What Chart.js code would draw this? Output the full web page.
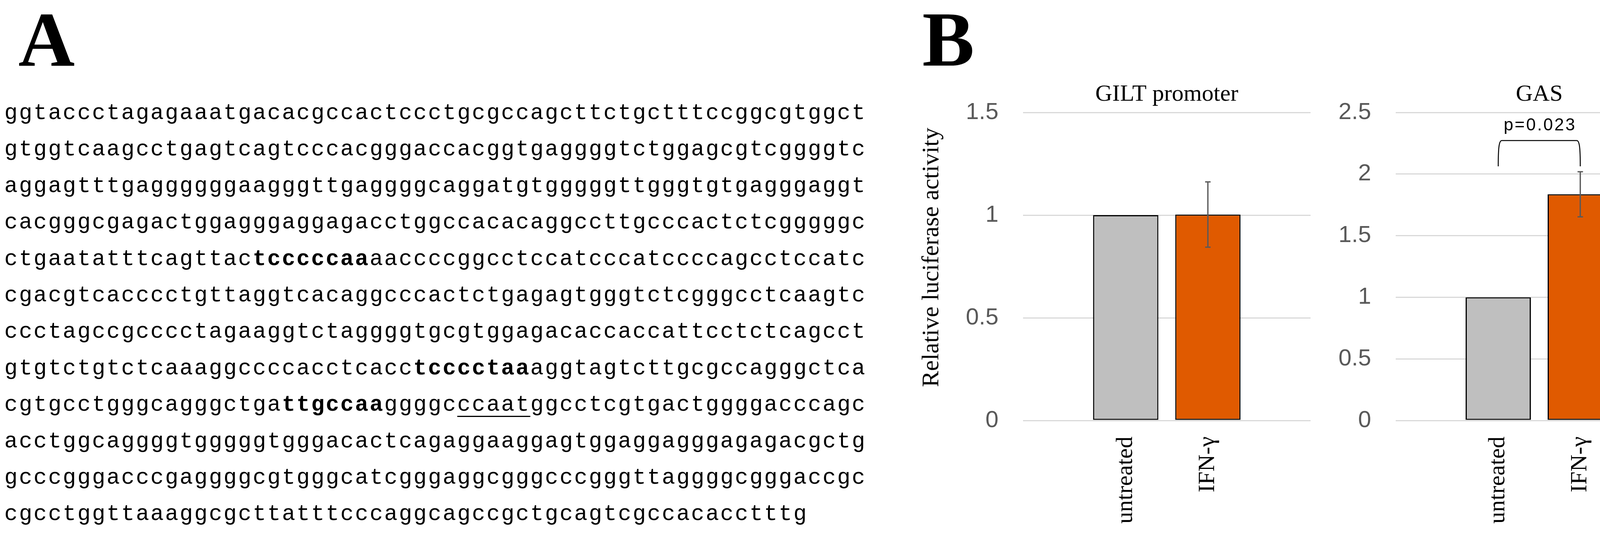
<!DOCTYPE html>
<html>
<head>
<meta charset="utf-8">
<script src="https://cdn.jsdelivr.net/npm/chart.js@4.4.1/dist/chart.umd.min.js"></script>
<style>
  html, body { margin: 0; padding: 0; background: #ffffff; }
  body { width: 4356px; height: 1378px; position: relative; overflow: hidden; }
  .panel-letter { position: absolute; font-family: "Liberation Serif", "Times New Roman", serif; font-weight: bold; font-size: 200px; line-height: 200px; color: #000; }
  #seq { position: absolute; left: 11px; top: 244px; font-family: "Liberation Mono", "Courier New", monospace; font-size: 57px; letter-spacing: 3.2px; line-height: 93.4px; color: #000; white-space: pre; }
  #seq b { font-weight: bold; }
  #seq u { text-decoration: underline; text-decoration-thickness: 3px; text-underline-offset: 13px; }
  canvas { position: absolute; }
</style>
</head>
<body>
<div class="panel-letter" style="left:47px; top:2px;">A</div>
<div class="panel-letter" style="left:2361px; top:1px;">B</div>
<div id="seq"></div>
<canvas id="gilt" width="1020" height="1198" style="left:2340px; top:180px; width:1020px; height:1198px;"></canvas>
<canvas id="gas" width="976" height="1198" style="left:3380px; top:180px; width:976px; height:1198px;"></canvas>
<script>
// ---------- data ----------
const seqLines = [
  'ggtaccctagagaaatgacacgccactccctgcgccagcttctgctttccggcgtggct',
  'gtggtcaagcctgagtcagtcccacgggaccacggtgaggggtctggagcgtcggggtc',
  'aggagtttgaggggggaagggttgaggggcaggatgtgggggttgggtgtgagggaggt',
  'cacgggcgagactggagggaggagacctggccacacaggccttgcccactctcgggggc',
  'ctgaatatttcagttac{tcccccaa}aaccccggcctccatcccatccccagcctccatc',
  'cgacgtcacccctgttaggtcacaggcccactctgagagtgggtctcgggcctcaagtc',
  'ccctagccgcccctagaaggtctaggggtgcgtggagacaccaccattcctctcagcct',
  'gtgtctgtctcaaaggccccacctcacc{tcccctaa}aggtagtcttgcgccagggctca',
  'cgtgcctgggcagggctga{ttgccaa}ggggc_ccaat_ggcctcgtgactggggacccagc',
  'acctggcaggggtgggggtgggacactcagaggaaggagtggaggagggagagacgctg',
  'gcccgggacccgaggggcgtgggcatcgggaggcgggcccgggttaggggcgggaccgc',
  'cgcctggttaaaggcgcttatttcccaggcagccgctgcagtcgccacacctttg'
];

const categories = ['untreated', 'IFN-\u03B3'];

const giltTitle = 'GILT promoter';
const giltValues = [1.0, 1.003];
const giltErrors = [0, 0.159];
const giltTicks = [0, 0.5, 1, 1.5];

const gasTitle = 'GAS';
const gasValues = [1.0, 1.836];
const gasErrors = [0, 0.183];
const gasTicks = [0, 0.5, 1, 1.5, 2, 2.5];
const gasPText = 'p=0.023';

const yAxisTitle = '   Relative luciferase activity';

// ---------- panel A sequence ----------
(function buildSeq() {
  const root = document.getElementById('seq');
  seqLines.forEach((line, li) => {
    let bold = false, under = false, buf = '';
    const flush = () => {
      if (!buf) return;
      let node;
      if (bold) { node = document.createElement('b'); node.textContent = buf; }
      else if (under) { node = document.createElement('u'); node.textContent = buf; }
      else { node = document.createTextNode(buf); }
      root.appendChild(node);
      buf = '';
    };
    for (const ch of line) {
      if (ch === '{') { flush(); bold = true; }
      else if (ch === '}') { flush(); bold = false; }
      else if (ch === '_') { flush(); under = !under; }
      else buf += ch;
    }
    flush();
    if (li < seqLines.length - 1) root.appendChild(document.createTextNode('\n'));
  });
})();

// ---------- chart plugins ----------
const errorBarPlugin = {
  id: 'errorBars',
  afterDatasetsDraw(chart, args, opts) {
    const ctx = chart.ctx;
    const yScale = chart.scales.y;
    const ds = chart.data.datasets[0];
    const meta = chart.getDatasetMeta(0);
    ctx.save();
    ctx.strokeStyle = opts.color;
    ctx.lineWidth = opts.width;
    meta.data.forEach((bar, i) => {
      const e = ds.errors[i];
      if (!e) return;
      const v = ds.data[i].y;
      const yt = yScale.getPixelForValue(v + e);
      const yb = yScale.getPixelForValue(v - e);
      ctx.beginPath();
      ctx.moveTo(bar.x, yt); ctx.lineTo(bar.x, yb);
      ctx.moveTo(bar.x - opts.cap, yt); ctx.lineTo(bar.x + opts.cap, yt);
      ctx.moveTo(bar.x - opts.cap, yb); ctx.lineTo(bar.x + opts.cap, yb);
      ctx.stroke();
    });
    ctx.restore();
  }
};

const bracketPlugin = {
  id: 'sigBracket',
  afterDatasetsDraw(chart, args, opts) {
    if (!opts || !opts.text) return;
    const ctx = chart.ctx;
    const xs = chart.scales.x, ys = chart.scales.y;
    const x1 = xs.getPixelForValue(opts.from);
    const x2 = xs.getPixelForValue(opts.to);
    const yb = ys.getPixelForValue(opts.low);
    const yt = ys.getPixelForValue(opts.high);
    const h = yb - yt;
    ctx.save();
    ctx.strokeStyle = '#000';
    ctx.lineWidth = 2.5;
    ctx.beginPath();
    ctx.moveTo(x1, yb);
    ctx.bezierCurveTo(x1, yt + h * 0.35, x1 + 1.5, yt, x1 + 9, yt);
    ctx.lineTo(x2 - 9, yt);
    ctx.bezierCurveTo(x2 - 1.5, yt, x2, yt + h * 0.35, x2, yb);
    ctx.stroke();
    ctx.fillStyle = '#000';
    ctx.font = '44px "Liberation Sans", Arial, sans-serif';
    try { ctx.letterSpacing = '3.7px'; } catch (e) {}
    ctx.textAlign = 'center';
    ctx.textBaseline = 'middle';
    ctx.fillText(opts.text, (x1 + x2) / 2 + 2, ys.getPixelForValue(opts.textAt));
    ctx.restore();
  }
};

Chart.defaults.font.family = '"Liberation Sans", Arial, sans-serif';

function makeChart(id, title, values, errors, ticks, yMax, yWidth, padRight, withYTitle, extraPlugins, extraOpts) {
  const cfg = {
    type: 'bar',
    data: {
      datasets: [{
        data: values.map((v, i) => ({ x: i, y: v })),
        errors: errors,
        backgroundColor: ['#BFBFBF', '#E05A00'],
        borderColor: '#000000',
        borderWidth: 3,
        borderSkipped: false,
        barPercentage: 1.0,
        categoryPercentage: 0.795
      }]
    },
    options: {
      responsive: false,
      animation: false,
      devicePixelRatio: 1,
      layout: { padding: { left: 0, right: padRight, top: 0, bottom: 0 } },
      plugins: Object.assign({
        legend: { display: false },
        tooltip: { enabled: false },
        title: {
          display: true,
          text: title,
          fullSize: false,
          color: '#000',
          font: { family: '"Liberation Serif", "Times New Roman", serif', size: 60, weight: 'normal', lineHeight: 1.2 },
          padding: { top: 26, bottom: 10 }
        },
        errorBars: { color: '#595959', width: 3.3, cap: 7 }
      }, extraOpts || {}),
      scales: {
        x: {
          type: 'linear',
          min: -1.25,
          max: 2.25,
          offset: false,
          grid: { display: false },
          border: { display: false },
          afterBuildTicks: (s) => { s.ticks = categories.map((c, i) => ({ value: i })); },
          afterFit: (s) => { s.height = 301; },
          ticks: {
            autoSkip: false,
            minRotation: 90,
            maxRotation: 90,
            padding: 33,
            color: '#000',
            font: { family: '"Liberation Serif", "Times New Roman", serif', size: 60 },
            callback: (v) => categories[v]
          }
        },
        y: {
          min: 0,
          max: yMax,
          afterBuildTicks: (s) => { s.ticks = ticks.map(v => ({ value: v })); },
          afterFit: (s) => { s.width = yWidth; },
          grid: { color: '#D9D9D9', lineWidth: 3, drawTicks: false },
          border: { display: false },
          ticks: {
            padding: 63,
            color: '#595959',
            font: { family: '"Liberation Sans", Arial, sans-serif', size: 60 },
            callback: (v) => String(v)
          },
          title: {
            display: withYTitle,
            text: yAxisTitle,
            color: '#000',
            font: { family: '"Liberation Serif", "Times New Roman", serif', size: 62 },
            padding: { top: 9, bottom: 0 }
          }
        }
      }
    },
    plugins: [errorBarPlugin].concat(extraPlugins || [])
  };
  return new Chart(document.getElementById(id), cfg);
}

makeChart('gilt', giltTitle, giltValues, giltErrors, giltTicks, 1.5, 279, 5, true, [], null);
makeChart('gas', gasTitle, gasValues, gasErrors, gasTicks, 2.5, 193, 48, false, [bracketPlugin], {
  sigBracket: { text: gasPText, from: 0, to: 1, low: 2.063, high: 2.272, textAt: 2.392 }
});
</script>
</body>
</html>
